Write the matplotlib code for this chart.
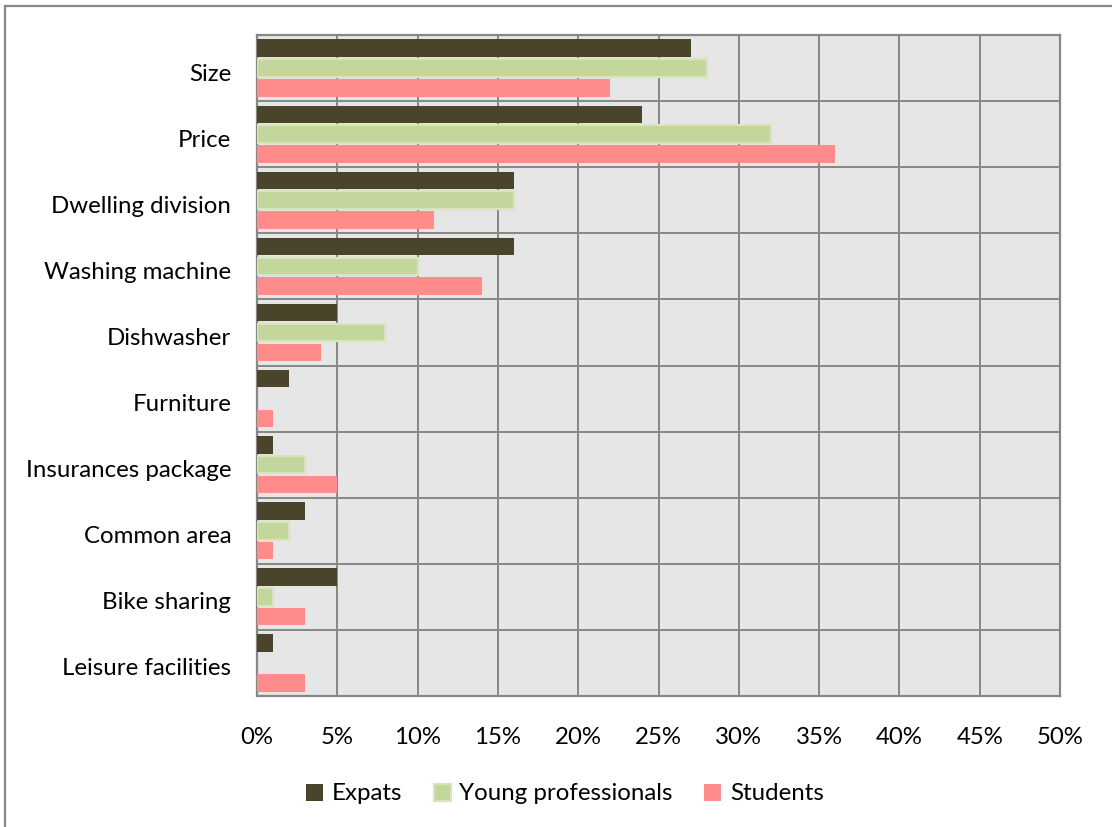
import matplotlib
matplotlib.use("Agg")
import matplotlib.pyplot as plt
import matplotlib.transforms as mtransforms
import numpy as np
from matplotlib.lines import Line2D
from matplotlib.ticker import FuncFormatter

plt.rcParams['font.family'] = ['Lato', 'DejaVu Sans']

categories = ["Size", "Price", "Dwelling division", "Washing machine", "Dishwasher",
              "Furniture", "Insurances package", "Common area", "Bike sharing",
              "Leisure facilities"]
expats = [27, 24, 16, 16, 5, 2, 1, 3, 5, 1]
young_professionals = [28, 32, 16, 10, 8, 0, 3, 2, 1, 0]
students = [22, 36, 11, 14, 4, 1, 5, 1, 3, 3]
series_names = ["Expats", "Young professionals", "Students"]
x_ticks = [0, 5, 10, 15, 20, 25, 30, 35, 40, 45, 50]

W, H = 1112, 827
fig = plt.figure(figsize=(W / 100, H / 100), dpi=100)
fig.patch.set_facecolor("white")
ax = fig.add_axes([257 / W, 1 - 696 / H, (1060 - 257) / W, (696 - 35) / H])

grid_col = "#878787"
ax.set_facecolor("#e6e6e6")

y = np.arange(len(categories))
step = 0.30
h = 0.265
ax.barh(y - step, expats, height=h, color="#4a452a", zorder=3, label=series_names[0])
ax.barh(y, young_professionals, height=h, color="#c3d69b", edgecolor="#d7e4bd",
        linewidth=[1.6 if v > 0 else 0 for v in young_professionals],
        zorder=3, label=series_names[1])
ax.barh(y + step, students, height=h, color="#ff8b8b", zorder=3, label=series_names[2])

ax.set_xlim(0, 50)
ax.set_ylim(len(categories) - 0.5, -0.5)
ax.set_xticks(x_ticks)
ax.xaxis.set_major_formatter(FuncFormatter(lambda v, p: f"{int(v)}%"))
ax.set_yticks(y)
ax.set_yticklabels(categories)
ax.set_yticks(np.arange(-0.5, len(categories), 1), minor=True)

ax.grid(True, axis="x", which="major", color=grid_col, linewidth=1.4, zorder=0)
ax.grid(True, axis="y", which="minor", color=grid_col, linewidth=1.4, zorder=0)
ax.grid(False, axis="y", which="major")
ax.set_axisbelow(True)

ax.tick_params(axis="both", which="both", length=0, labelsize=17.3, colors="black")
ax.tick_params(axis="y", pad=18.5)
ax.tick_params(axis="x", pad=22)
for s in ax.spines.values():
    s.set_color(grid_col)
    s.set_linewidth(1.6)

# nudge category labels slightly downward
shift = mtransforms.ScaledTranslation(0, -4 / 100, fig.dpi_scale_trans)
for lbl in ax.get_yticklabels():
    lbl.set_transform(lbl.get_transform() + shift)

leg = fig.legend(loc="center", bbox_to_anchor=(0.508, 1 - 794 / H), ncol=3,
                 frameon=False, fontsize=17.3, handlelength=0.72, handleheight=0.72,
                 handletextpad=0.35, columnspacing=1.3)
for t in leg.get_texts():
    t.set_color("black")

# outer chart border (top and left edges)
lw = 1.6
fig.add_artist(Line2D([5 / W, 5 / W], [0, 1 - 6 / H], color="#888888", linewidth=lw))
fig.add_artist(Line2D([5 / W, 1], [1 - 6 / H, 1 - 6 / H], color="#888888", linewidth=lw))

fig.savefig("out.png", dpi=100)
